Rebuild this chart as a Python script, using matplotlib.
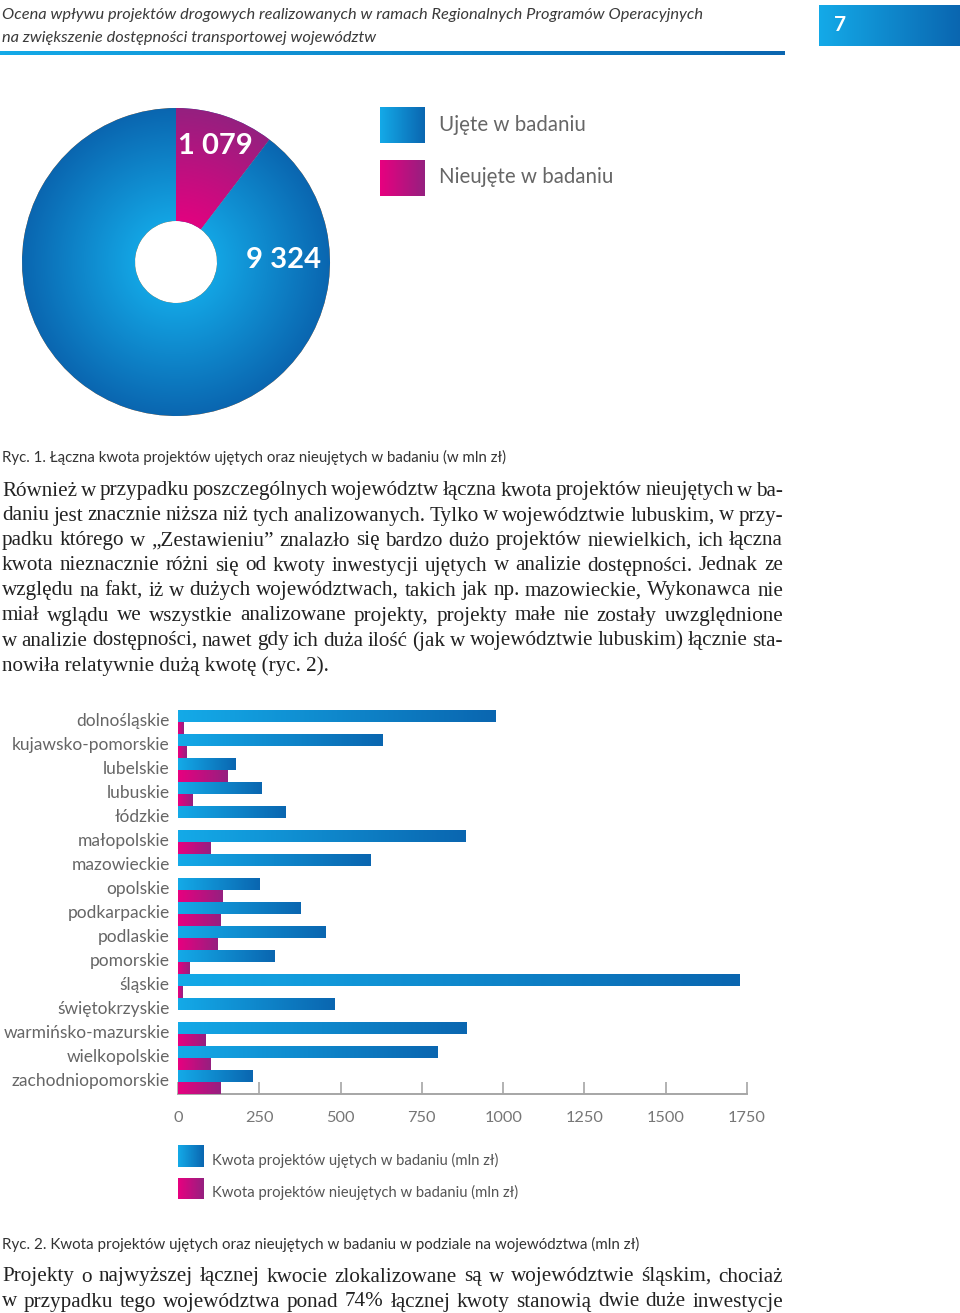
import numpy as np
import matplotlib
matplotlib.use("Agg")
import matplotlib.pyplot as plt
from matplotlib.colors import LinearSegmentedColormap

# --- data ---
header_lines = [
    "Ocena wpływu projektów drogowych realizowanych w ramach Regionalnych Programów Operacyjnych",
    "na zwiększenie dostępności transportowej województw",
]
page_number = "7"

pie_names = ["Nieujęte w badaniu", "Ujęte w badaniu"]
pie_values = [1079, 9324]
pie_texts = ["1 079", "9 324"]

categories = ["dolnośląskie", "kujawsko-pomorskie", "lubelskie", "lubuskie", "łódzkie",
              "małopolskie", "mazowieckie", "opolskie", "podkarpackie", "podlaskie",
              "pomorskie", "śląskie", "świętokrzyskie", "warmińsko-mazurskie",
              "wielkopolskie", "zachodniopomorskie"]
ujete = [977, 628, 177, 258, 332, 883, 592, 251, 378, 455, 296, 1726, 481, 887, 798, 229]
nieujete = [17, 25, 153, 44, 0, 100, 0, 137, 132, 121, 35, 15, 0, 86, 100, 130]
x_ticks = [0, 250, 500, 750, 1000, 1250, 1500, 1750]
bar_legend = ["Kwota projektów ujętych w badaniu (mln zł)",
              "Kwota projektów nieujętych w badaniu (mln zł)"]

caption1 = "Ryc. 1. Łączna kwota projektów ujętych oraz nieujętych w badaniu (w mln zł)"
caption2 = "Ryc. 2. Kwota projektów ujętych oraz nieujętych w badaniu w podziale na województwa (mln zł)"
para1 = [
    "Również w przypadku poszczególnych województw łączna kwota projektów nieujętych w ba-",
    "daniu jest znacznie niższa niż tych analizowanych. Tylko w województwie lubuskim, w przy-",
    "padku którego w „Zestawieniu” znalazło się bardzo dużo projektów niewielkich, ich łączna",
    "kwota nieznacznie różni się od kwoty inwestycji ujętych w analizie dostępności. Jednak ze",
    "względu na fakt, iż w dużych województwach, takich jak np. mazowieckie, Wykonawca nie",
    "miał wglądu we wszystkie analizowane projekty, projekty małe nie zostały uwzględnione",
    "w analizie dostępności, nawet gdy ich duża ilość (jak w województwie lubuskim) łącznie sta-",
    "nowiła relatywnie dużą kwotę (ryc. 2).",
]
para2 = [
    "Projekty o najwyższej łącznej kwocie zlokalizowane są w województwie śląskim, chociaż",
    "w przypadku tego województwa ponad 74% łącznej kwoty stanowią dwie duże inwestycje",
]

# --- page setup ---
W, H = 960, 1313
fig = plt.figure(figsize=(9.6, 13.13), dpi=100)
SANS = ["Lato", "DejaVu Sans"]
SERIF = ["Liberation Serif", "DejaVu Serif"]
BODY_SIZE = 15.2


def px_axes(x0, y0, x1, y1):
    return fig.add_axes([x0 / W, 1 - y1 / H, (x1 - x0) / W, (y1 - y0) / H])


page = px_axes(0, 0, W, H)
page.axis("off")

blue_cm = LinearSegmentedColormap.from_list("blue", ["#14aae8", "#0a66b0"])
mag_cm = LinearSegmentedColormap.from_list("mag", ["#e8007f", "#952080"])
hgrad = np.linspace(0, 1, 256).reshape(1, -1)


def grad_fill(ax, x0, y0, x1, y1, cmap, clip=None, z=3):
    im = ax.imshow(hgrad, cmap=cmap, extent=[x0, x1, y1, y0], aspect="auto",
                   interpolation="bilinear", zorder=z)
    if clip is not None:
        im.set_clip_path(clip)
    return im


# header
for i, line in enumerate(header_lines):
    page.text(2, 15 + 23 * i, line, family=SANS, style="italic", fontsize=11.8,
              color="#3a3a3a", va="center")
grad_fill(page, 0, 51, 785, 55, blue_cm)
grad_fill(page, 819, 5, 960, 46, blue_cm)
page.text(840, 25, page_number, family=SANS, weight="bold", fontsize=15,
          color="white", ha="center", va="center", zorder=5)

# --- donut chart ---
pax = px_axes(22, 108, 330, 416)
wedges, _ = pax.pie(pie_values, startangle=90, counterclock=False, radius=1,
                    wedgeprops=dict(width=1 - 41 / 154, linewidth=0))
yy, xx = np.mgrid[-1:1:400j, -1:1:400j]
rr = np.hypot(xx, yy)
for wedge, cmap in zip(wedges, [mag_cm, blue_cm]):
    im = pax.imshow(rr, cmap=cmap, extent=[-1, 1, -1, 1], vmin=0.2, vmax=1.0,
                    interpolation="bilinear", zorder=2)
    im.set_clip_path(wedge)
pax.text(0.253, 0.75, pie_texts[0], family=SANS, weight="bold", fontsize=21,
         color="white", ha="center", va="center", zorder=5)
pax.text(0.695, 0.01, pie_texts[1], family=SANS, weight="bold", fontsize=21,
         color="white", ha="center", va="center", zorder=5)
pax.set_xlim(-1, 1)
pax.set_ylim(-1, 1)
pax.set_aspect("auto")
pax.axis("off")

# donut legend
grad_fill(page, 380, 107, 425, 143, blue_cm)
grad_fill(page, 380, 160, 425, 196, mag_cm)
page.text(439, 125, pie_names[1], family=SANS, fontsize=14.8, color="#666666", va="center")
page.text(439, 177, pie_names[0], family=SANS, fontsize=14.8, color="#666666", va="center")

page.text(2, 457, caption1, family=SANS, fontsize=10.8, color="#333333", va="center")

renderer = fig.canvas.get_renderer()


def justified(lines, y0, dy, x0=2, x1=783, last_free=True):
    for k, line in enumerate(lines):
        y = y0 + dy * k
        if last_free and k == len(lines) - 1:
            page.text(x0, y, line, family=SERIF, fontsize=BODY_SIZE, color="#222222",
                      va="center")
            continue
        words = line.split(" ")
        ts = [page.text(0, y, w, family=SERIF, fontsize=BODY_SIZE, color="#222222",
                        va="center") for w in words]
        widths = [t.get_window_extent(renderer).width for t in ts]
        gap = (x1 - x0 - sum(widths)) / (len(words) - 1)
        x = x0
        for t, w in zip(ts, widths):
            t.set_x(x)
            x += w + gap


# --- bar chart ---
bax = px_axes(178, 710, 747, 1094)
y = np.arange(len(categories))
b1 = bax.barh(y - 0.25, ujete, height=0.48, color="#0a8ed6", zorder=2)
b2 = bax.barh(y + 0.25, nieujete, height=0.48, color="#c8107f", zorder=2)
for bars, cmap in [(b1, blue_cm), (b2, mag_cm)]:
    for p in bars:
        if p.get_width() <= 0:
            continue
        x0, y0 = p.get_x(), p.get_y()
        grad_fill(bax, x0, y0, x0 + p.get_width(), y0 + p.get_height(), cmap, clip=p)

bax.set_xlim(0, 1750)
bax.set_ylim(len(categories) - 0.5, -0.5)
bax.set_xticks(x_ticks)
bax.set_xticklabels([str(t) for t in x_ticks], family=SANS)
bax.set_yticks(y - 0.12)
bax.set_yticklabels(categories, family=SANS)
for s in ["top", "right", "left"]:
    bax.spines[s].set_visible(False)
bax.spines["bottom"].set_color("#a6a6a6")
bax.spines["bottom"].set_linewidth(1.4)
bax.tick_params(axis="x", direction="in", length=8.5, width=1.2, color="#a6a6a6",
                labelsize=11.8, labelcolor="#777777", pad=12)
bax.tick_params(axis="y", length=0, pad=6, labelsize=12.5, labelcolor="#666666")

# bar legend
grad_fill(page, 178, 1145, 204, 1167, blue_cm)
grad_fill(page, 178, 1178, 204, 1199, mag_cm)
page.text(212, 1160, bar_legend[0], family=SANS, fontsize=10.7, color="#555555", va="center")
page.text(212, 1192, bar_legend[1], family=SANS, fontsize=10.7, color="#555555", va="center")

page.text(2, 1244, caption2, family=SANS, fontsize=10.9, color="#333333", va="center")

justified(para1, 491, 25)
justified(para2, 1277, 25, last_free=False)

page.set_xlim(0, W)
page.set_ylim(H, 0)

fig.savefig("out.png", dpi=100)
